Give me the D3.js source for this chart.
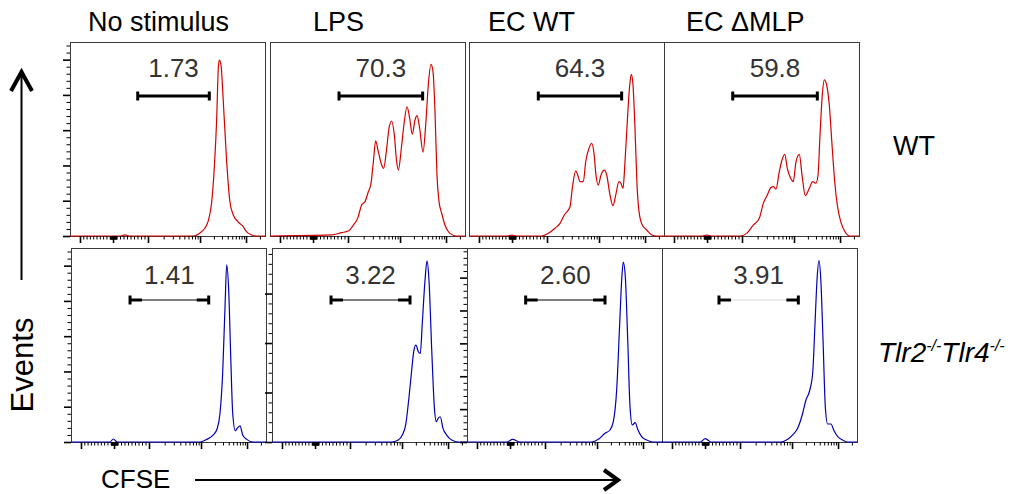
<!DOCTYPE html>
<html>
<head>
<meta charset="UTF-8">
<style>
  body { margin: 0; background: #fff; }
  svg text { font-family: "Liberation Sans", Arial, Helvetica, sans-serif; }
  .frame { fill: none; stroke: #3a3a3a; stroke-width: 1; }
  .hist { fill: none; stroke-width: 1.2; stroke-linejoin: round; }
  .pct { fill: #333; font-size: 26px; }
  .title { fill: #000; font-size: 27px; }
  .axis line { stroke: #000; }
</style>
<script src="https://d3js.org/d3.v7.min.js"></script>
<title>CFSE dilution</title>
</head>
<body>
<svg id="fig" width="1016" height="494"></svg>
<script>
// columnas (estimulo) y filas (genotipo)
var stimuli = ["No stimulus", "LPS", "EC WT", "EC \u0394MLP"];
var genotypes = ["WT", "Tlr2-/-Tlr4-/-"];

// porcentaje en la compuerta
var gatePct = [["1.73", "70.3", "64.3", "59.8"], ["1.41", "3.22", "2.60", "3.91"]];
// limites de la compuerta (canal 0-256)
var gateWT = [[88.9, 182.9], [90.6, 200.4], [91, 200.4], [90.2, 201.3]];
var gateKO = [[77.5, 180.8], [77.5, 181.2], [77, 181.2], [74.8, 179]];

// maximo del eje de eventos por panel
var countMaxWT = [110, 110, 110, 110];
var countMaxKO = [110, 78.4, 118, 110];

// eje CFSE: marcas principales y secundarias (intensidad)
var cfseMajor = [-1000, 0, 1000, 10000, 100000];
var cfseMinor = [-900, -800, -700, -600, -500, -400, -300, -200, -100,
  -90, -80, -70, -60, -50, -40, -30, -20, -10, 10, 20, 30, 40, 50, 60, 70, 80, 90,
  100, 200, 300, 400, 500, 600, 700, 800, 900,
  2000, 3000, 4000, 5000, 6000, 7000, 8000, 9000,
  20000, 30000, 40000, 50000, 60000, 70000, 80000, 90000, 200000];
var countMajor = [0, 20, 40, 60, 80, 100];
var countMinor = [4, 8, 12, 16, 24, 28, 32, 36, 44, 48, 52, 56, 64, 68, 72, 76, 84, 88, 92, 96, 104, 108, 112, 116];

// histogramas [canal, eventos]
var wtNoStim = [[0, 0], [66, 0], [72, 0.6], [78, 0], [161.5, 0], [170.7, 1.7], [179.5, 6.2], [186, 19.3],
  [189.4, 38.6], [192.6, 66.9], [194.7, 95.3], [196, 99.8], [198.2, 97], [201.3, 76], [205.7, 42],
  [210, 19.3], [214.4, 11.9], [221, 7.9], [226.7, 5.7], [232, 2.3], [238.5, 0.6], [245, 0], [256, 0]];
var wtLPS = [[0, 0], [81, 0.6], [94.1, 1.9], [102.8, 2.8], [109.4, 6.2], [115.1, 10], [120.3, 17.6],
  [124.7, 19.5], [129.1, 25.1], [132.6, 29.9], [135.7, 42.1], [138.7, 53.9], [142.2, 47.8], [146.6, 40.3],
  [149.2, 38.4], [153.2, 49.7], [156.2, 61], [159.7, 65.2], [163.2, 57.3], [166.3, 42.1], [168.5, 37.4],
  [172.9, 51.6], [176.3, 64.8], [179.9, 73.3], [183.4, 66.7], [186.8, 57.7], [190.4, 65.8], [193, 68.2],
  [196.5, 61], [200.9, 47.5], [204.4, 62.9], [207.8, 85.6], [211.4, 97.3], [214, 93.2], [216.6, 70.5],
  [219.2, 34.6], [221.9, 19.5], [225.4, 12.9], [229.7, 6.2], [236.3, 1.5], [245, 0], [256, 0]];
var wtECWT = [[0, 0], [50, 0], [56, 0.5], [62, 0], [95.4, 0], [104.1, 1.5], [112.9, 4.4], [119.5, 7.2],
  [125.1, 11.9], [132.6, 16.6], [135.6, 27], [140.1, 36.9], [142.7, 34.6], [145.7, 30.8], [150.1, 30.8],
  [153.2, 42.1], [157.5, 49.7], [161.1, 52.6], [164.1, 46.9], [166.7, 34.6], [169.7, 28.9], [173.3, 34.6],
  [177.6, 37.4], [180.8, 34.6], [185.1, 23.2], [189, 17.2], [192.6, 23.2], [196.9, 30.8], [199.5, 29.9],
  [202.2, 27], [204.8, 42.1], [208.3, 68.6], [211, 85.6], [213.1, 91.7], [215.3, 85.6], [217.9, 61.1],
  [220.6, 28.9], [223.2, 13.8], [227.5, 6.2], [233.3, 3.4], [239.8, 0.6], [246.4, 0], [256, 0]];
var wtECdMLP = [[0, 0], [50, 0], [56, 0.5], [62, 0], [99.8, 0], [108.6, 1.5], [117.2, 6.2], [125.1, 10],
  [130.4, 18.5], [135.6, 23.2], [140.1, 27.4], [143.5, 28], [147, 26.6], [151.4, 36.5], [154.9, 43.1],
  [158.5, 46.3], [161.9, 38.4], [166.3, 32.7], [169.7, 30.8], [173.3, 42.1], [177.6, 46.3], [181.2, 34.6],
  [185.5, 22.9], [190.7, 27], [195.2, 30.8], [199.5, 29.9], [202.2, 34.6], [204.8, 57.3], [207.8, 79.9],
  [210.4, 88.5], [213.6, 85.6], [217, 74.3], [220.6, 51.6], [224.1, 30.8], [227.5, 17.6], [232, 8.1],
  [237.6, 2.4], [244.2, 0], [256, 0]];
var koNoStim = [[0, 0], [51.2, 0], [55.5, 1.7], [60.8, 0], [169.4, 0], [178.1, 1.5], [186.8, 4], [192.1, 7.8],
  [195.6, 16.3], [199.1, 39], [202.2, 76.7], [204.4, 100.4], [207, 86.2], [209.7, 48.4], [212.3, 16.3],
  [215.7, 6.4], [218.3, 7.8], [221.9, 9.1], [225.4, 4], [230.7, 1.5], [239.3, 0], [256, 0]];
var koLPS = [[0, 0], [157.1, 0], [165.8, 0.8], [171.1, 2.8], [175.5, 6.9], [179.9, 18.3], [183.4, 29.1],
  [186.4, 37.2], [189, 39.2], [192.1, 36.5], [194.7, 35.8], [197.3, 48], [200.9, 65.4], [203.5, 73.2],
  [206.1, 65.4], [209.7, 37.2], [213.1, 14.3], [215.7, 8.2], [218.3, 9.6], [220.9, 10.2], [224.5, 5.5],
  [229.3, 2.8], [235.9, 0.8], [244.6, 0], [256, 0]];
var koECWT = [[0, 0], [52.1, 0], [60, 1.6], [69.6, 0], [163.7, 0], [172.4, 1.6], [181.2, 5.3], [187.7, 7.3],
  [192.1, 12.4], [196.5, 31.7], [200.5, 72.4], [203.1, 98.8], [205.2, 109.4], [207.8, 100.8], [211, 62.2],
  [214, 21.5], [217, 10.4], [220.9, 11.8], [224.1, 7.7], [229.3, 3.2], [235.9, 1.2], [244.6, 0], [256, 0]];
var koECdMLP = [[0, 0], [50.3, 0], [56.8, 1.9], [64.3, 0], [156.2, 0], [165, 1.5], [171.6, 4], [178.1, 7.8],
  [184.7, 16.3], [189, 23.8], [193.4, 28.5], [197.8, 39], [200.9, 67.3], [203.5, 91.9], [206.1, 102.8],
  [208.7, 90], [211.4, 57.8], [214.4, 20], [217.5, 10.2], [221.9, 10.2], [225.4, 6.8], [230.7, 3],
  [237.2, 1.1], [243.8, 0], [256, 0]];

var histWT = [wtNoStim, wtLPS, wtECWT, wtECdMLP];
var histKO = [koNoStim, koLPS, koECWT, koECdMLP];

// disposicion
var svg = d3.select("#fig");
var pw = 195, ph = 194;
var rowTop = [42, 248];
var colLeft = [[70, 270, 469, 664], [71, 272, 467, 662]];
var showCountAxis = [[true, false, false, false], [true, true, true, false]];
var titleX = [88, 313, 488, 686];
var lineColor = ["#d40000", "#0000b8"];

// canal <-> intensidad (parte lineal cerca de 0, logaritmica arriba)
var linPart = d3.scaleLinear().domain([-1000, 0, 1000]).range([13.1, 56.5, 102.4]);
var logPart = d3.scaleLog().domain([1000, 10000, 100000]).range([102.4, 170.7, 231.1]);
function toChannel(v) { return v <= 1000 ? linPart(v) : logPart(v); }

var x = d3.scaleLinear().domain([0, 256]).range([0, pw]);

// titulos
svg.selectAll(".title")
  .data(stimuli)
  .enter().append("text")
  .attr("class", "title")
  .attr("x", function(d, i) { return titleX[i]; })
  .attr("y", 31)
  .text(function(d) { return d; });

[0, 1].forEach(function(r) {
  var hists = r == 0 ? histWT : histKO;
  var maxes = r == 0 ? countMaxWT : countMaxKO;
  var gates = r == 0 ? gateWT : gateKO;

  stimuli.forEach(function(s, c) {
    var g = svg.append("g")
      .attr("transform", "translate(" + colLeft[r][c] + "," + rowTop[r] + ")");
    var y = d3.scaleLinear().domain([0, maxes[c]]).range([ph, 0]);

    g.append("rect").attr("class", "frame")
      .attr("x", 0.5).attr("y", 0.5).attr("width", pw).attr("height", ph);

    // histograma
    var line = d3.line()
      .x(function(d) { return x(d[0]); })
      .y(function(d) { return y(d[1]); })
      .curve(d3.curveMonotoneX);
    g.append("path").attr("class", "hist")
      .attr("stroke", lineColor[r])
      .attr("d", line(hists[c]));

    // eje x
    g.append("g").attr("class", "axis")
      .attr("transform", "translate(0," + ph + ")")
      .call(d3.axisBottom(x).tickValues(cfseMinor.map(toChannel)).tickSize(3.5).tickFormat(""))
      .call(function(a) { a.select(".domain").remove(); });
    g.append("g").attr("class", "axis")
      .attr("transform", "translate(0," + ph + ")")
      .call(d3.axisBottom(x).tickValues(cfseMajor.map(toChannel)).tickSize(7).tickFormat(""))
      .call(function(a) { a.select(".domain").remove(); a.selectAll("line").attr("stroke-width", 1.6); });

    // eje y
    if (showCountAxis[r][c]) {
      var mn = countMinor.filter(function(v) { return v <= maxes[c]; });
      var mj = countMajor.filter(function(v) { return v <= maxes[c]; });
      g.append("g").attr("class", "axis")
        .call(d3.axisLeft(y).tickValues(mn).tickSize(3.5).tickFormat(""))
        .call(function(a) { a.select(".domain").remove(); });
      g.append("g").attr("class", "axis")
        .call(d3.axisLeft(y).tickValues(mj).tickSize(7).tickFormat(""))
        .call(function(a) { a.select(".domain").remove(); a.selectAll("line").attr("stroke-width", 1.6); });
    }

    // compuerta
    var gx0 = x(gates[c][0]), gx1 = x(gates[c][1]);
    var gy = r == 0 ? 54 : 52;
    if (r == 0) {
      g.append("line").attr("x1", gx0).attr("x2", gx1).attr("y1", gy).attr("y2", gy)
        .attr("stroke", "#000").attr("stroke-width", 3);
    } else {
      g.append("line").attr("x1", gx0).attr("x2", gx1).attr("y1", gy).attr("y2", gy)
        .attr("stroke", c == 3 ? "#d8d8d8" : "#000").attr("stroke-width", 1);
      [[gx0, gx0 + 12], [gx1 - 12, gx1]].forEach(function(seg) {
        g.append("line").attr("x1", seg[0]).attr("x2", seg[1]).attr("y1", gy).attr("y2", gy)
          .attr("stroke", "#000").attr("stroke-width", 3);
      });
    }
    [gx0, gx1].forEach(function(cx) {
      g.append("line").attr("x1", cx).attr("x2", cx).attr("y1", gy - 4.5).attr("y2", gy + 4.5)
        .attr("stroke", "#000").attr("stroke-width", 3);
    });
    g.append("text").attr("class", "pct")
      .attr("x", (gx0 + gx1) / 2)
      .attr("y", r == 0 ? 35 : 36)
      .attr("text-anchor", "middle")
      .text(gatePct[r][c]);
  });
});

// etiquetas de fila
svg.append("text")
  .attr("x", 893).attr("y", 155)
  .attr("font-size", "27px")
  .text(genotypes[0]);
var ko = svg.append("text")
  .attr("x", 878).attr("y", 362)
  .attr("font-size", "28px")
  .attr("font-style", "italic");
ko.append("tspan").text("Tlr2");
ko.append("tspan").attr("font-size", "16px").attr("dy", -11).text("-/-");
ko.append("tspan").attr("dy", 11).text("Tlr4");
ko.append("tspan").attr("font-size", "16px").attr("dy", -11).text("-/-");

// eje Events con flecha
svg.append("line").attr("x1", 21.5).attr("x2", 21.5).attr("y1", 73).attr("y2", 280)
  .attr("stroke", "#000").attr("stroke-width", 2);
svg.append("polyline").attr("points", "11,91 21.5,72 32,91")
  .attr("fill", "none").attr("stroke", "#000").attr("stroke-width", 4);
svg.append("text")
  .attr("transform", "translate(33,365) rotate(-90)")
  .attr("text-anchor", "middle")
  .attr("font-size", "31px")
  .text("Events");

// eje CFSE con flecha
svg.append("text")
  .attr("x", 101).attr("y", 488)
  .attr("font-size", "26px")
  .text("CFSE");
svg.append("line").attr("x1", 195).attr("x2", 617).attr("y1", 480).attr("y2", 480)
  .attr("stroke", "#000").attr("stroke-width", 2);
svg.append("polyline").attr("points", "604,470 618,480 604,490")
  .attr("fill", "none").attr("stroke", "#000").attr("stroke-width", 4);
</script>
</body>
</html>
